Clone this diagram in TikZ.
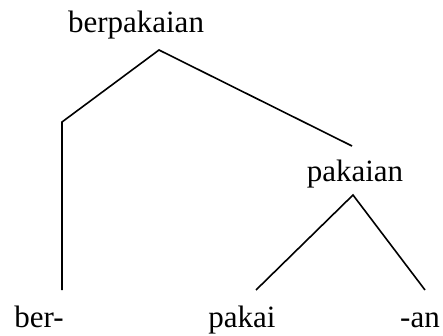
\documentclass[tikz,border=0pt]{standalone}
\usepackage{fontspec}
\setmainfont{Liberation Serif}
\begin{document}
\begin{tikzpicture}[x=1pt,y=-1pt,
  word/.style={inner sep=0pt,anchor=base,font=\fontsize{31}{36}\selectfont},
  branch/.style={line width=1.6pt,line join=miter}]
\useasboundingbox (0,0) rectangle (443,336);
\node[word] (root) at (136,33) {berpakaian};
\node[word] (mid) at (355,182) {pakaian};
\node[word] (ber) at (39,327) {ber-};
\node[word] (pakai) at (242,327) {pakai};
\node[word] (an) at (420,327) {-an};
\coordinate (top) at (159,50);
\coordinate (bend) at (62,122);
\coordinate (berend) at (62,290);
\coordinate (midin) at (352,146);
\coordinate (midtop) at (353,195);
\coordinate (pakaiend) at (256,290);
\coordinate (anend) at (425,290);
\draw[branch] (berend) -- (bend) -- (top) -- (midin);
\draw[branch] (pakaiend) -- (midtop) -- (anend);
\end{tikzpicture}
\end{document}
